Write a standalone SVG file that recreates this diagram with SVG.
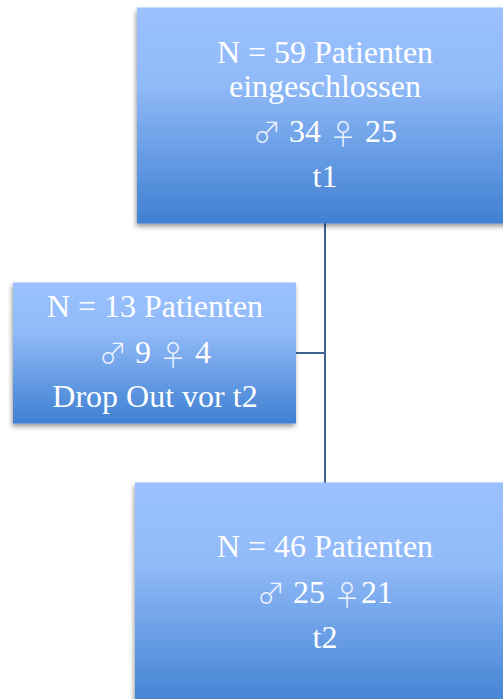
<svg xmlns="http://www.w3.org/2000/svg" width="503" height="699" viewBox="0 0 503 699">
<style>
.box{fill:url(#g);filter:url(#sh)}
.t{font-family:"Liberation Serif","Times New Roman",serif;font-size:32px;fill:#fff;text-anchor:middle}
.s{font-family:"Noto Sans CJK JP","DejaVu Sans",sans-serif;font-weight:300;font-size:28px;fill:#eef4ff}
.c{stroke:#3d6394;stroke-width:2;fill:none}
</style>
<defs>
<linearGradient id="g" x1="0" y1="0" x2="0" y2="1">
<stop offset="0" stop-color="#9bc1ff"/>
<stop offset="0.35" stop-color="#91baf8"/>
<stop offset="1" stop-color="#3f80d2"/>
</linearGradient>
<filter id="sh" x="-10%" y="-10%" width="120%" height="130%">
<feDropShadow dx="-1" dy="3" stdDeviation="2.5" flood-color="#000" flood-opacity="0.4"/>
</filter>
</defs>
<g id="connectors">
<path class="c" d="M325 223V483"/>
<path class="c" d="M296 353H325"/>
</g>
<g id="n1">
<rect class="box" x="137" y="7.5" width="380" height="216"/>
<text class="t" x="325" y="63">N = 59 Patienten</text>
<text class="t" x="325" y="97">eingeschlossen</text>
<text class="t" x="325" y="142"><tspan class="s" dy="1">♂</tspan><tspan dy="-1"> 34 </tspan><tspan class="s" dy="3">♀</tspan><tspan dy="-3"> 25</tspan></text>
<text class="t" x="325" y="187">t1</text>
</g>
<g id="n2">
<rect class="box" x="13" y="282.5" width="283" height="141"/>
<text class="t" x="155" y="317">N = 13 Patienten</text>
<text class="t" x="155" y="363"><tspan class="s" dy="1">♂</tspan><tspan dy="-1"> 9 </tspan><tspan class="s" dy="3">♀</tspan><tspan dy="-3"> 4</tspan></text>
<text class="t" x="155" y="407">Drop Out vor t2</text>
</g>
<g id="n3">
<rect class="box" x="135" y="482.5" width="380" height="230"/>
<text class="t" x="325" y="557">N = 46 Patienten</text>
<text class="t" x="325" y="603"><tspan class="s" dy="1">♂</tspan><tspan dy="-1"> 25 </tspan><tspan class="s" dy="3">♀</tspan><tspan dy="-3">21</tspan></text>
<text class="t" x="325" y="648">t2</text>
</g>
</svg>
